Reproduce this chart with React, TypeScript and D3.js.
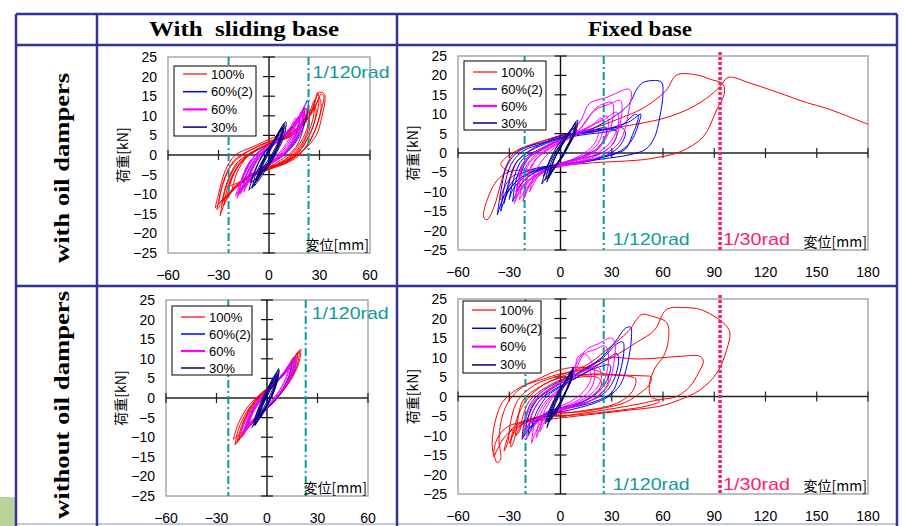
import React from 'react';
import * as d3 from 'd3';

type Pt = [number, number];
type Loop = Pt[];

const seriesNames = ['100%', '60%(2)', '60%', '30%'];
const seriesColors = ['#ff0000', '#0000ff', '#ff00ff', '#000080'];
const legendWidths = [1.2, 1.5, 2.2, 1.5];

const yTicks = [25, 20, 15, 10, 5, 0, -5, -10, -15, -20, -25];
const xTicksSliding = [-60, -30, 0, 30, 60];
const xTicksFixed = [-60, -30, 0, 30, 60, 90, 120, 150, 180];

// ---- with sliding base / with oil dampers ----
const aRed: Loop[] = [
  [[-31, -14], [-27, -7], [-21, -1.5], [-10, 1.5], [0, 3.5], [12, 5.5], [22, 9], [28, 13], [31, 15.5], [32.5, 15], [30, 10], [27, 6], [18, 0], [8, -2.5], [-2, -3.8], [-14, -6], [-24, -10], [-30, -13.5], [-31, -14]],
  [[-29, -15.5], [-26, -9], [-20, -3], [-10, 0.8], [2, 3], [14, 5], [24, 10], [29, 16], [29.5, 13], [24, 5], [15, -0.5], [4, -3], [-8, -5], [-18, -7.5], [-26, -12], [-29, -15.5]],
  [[-25, -11], [-22, -6], [-16, -1.5], [-6, 1.5], [6, 3.8], [16, 6.5], [24, 11], [27, 14], [26, 9], [19, 2], [10, -1.5], [0, -3.2], [-12, -5.5], [-21, -8.5], [-25, -11]],
  [[-24, -8], [-20, -4], [-12, 0], [0, 3], [12, 5], [20, 8.5], [24, 11.5], [22, 6], [14, 0.5], [4, -2.5], [-8, -4.5], [-18, -7], [-24, -8]],
  [[-28, -12], [-25, -7], [-19, -2], [-8, 1.2], [4, 3.5], [15, 5.5], [25, 11], [30, 16], [33, 15.5], [31, 9], [28, 5], [20, 1], [8, -2], [-4, -4], [-16, -6.5], [-24, -10], [-28, -12]],
  [[-32, -13.5], [-30, -10], [-26, -4], [-20, 0], [-10, 2], [0, 4], [10, 6], [18, 9], [22, 12], [21, 8], [16, 2], [8, -1], [-2, -3.5], [-14, -6.5], [-24, -10], [-32, -13.5]],
  [[-27, -13], [-24, -7.5], [-18, -2.5], [-8, 1], [3, 3.2], [13, 5], [22, 8.5], [27, 12.5], [28, 11], [25, 6], [17, 0.5], [6, -2.5], [-5, -4.2], [-16, -6.5], [-23, -9.5], [-27, -13]],
  [[-30, -12.5], [-28, -8], [-23, -3], [-14, 0.5], [-3, 2.8], [8, 4.5], [18, 7], [26, 11], [30, 14.5], [31, 12], [28, 7], [22, 2], [12, -1.5], [1, -3.5], [-10, -5.2], [-20, -8], [-30, -12.5]],
  [[-22, -9], [-19, -4.5], [-13, -0.5], [-3, 2.2], [8, 4.2], [17, 6.8], [23, 10], [24, 8.5], [21, 4], [14, 0], [5, -2.3], [-6, -4], [-15, -6], [-22, -9]],
];
const aBlue: Loop[] = [
  [[-18, -10], [-15, -5], [-9, -0.5], [0, 2.5], [10, 5.5], [18, 9.5], [23, 14], [22.5, 10], [17, 4], [9, 0], [0, -2.5], [-9, -5], [-15, -8], [-18, -10]],
  [[-16, -9], [-13, -4.5], [-6, 0], [2, 2.5], [11, 5.5], [17, 8.5], [21, 12], [20, 8], [14, 2.5], [6, -0.5], [-3, -3], [-11, -6], [-16, -9]],
  [[-14, -8], [-10, -3.5], [-4, 0.5], [4, 3], [12, 6], [18, 10], [17, 6.5], [11, 1.5], [3, -1.5], [-6, -4], [-12, -6.5], [-14, -8]],
  [[-17, -7.5], [-13, -3], [-7, 0.5], [1, 2.8], [9, 5], [16, 8], [20, 11], [19, 7], [13, 2], [5, -1], [-4, -3.5], [-12, -5.5], [-17, -7.5]],
];
const aMagenta: Loop[] = [
  [[-19, -11], [-16, -6], [-10, -1], [0, 2.5], [10, 5], [17, 8.5], [21, 12.5], [20, 8.5], [14, 3], [6, -0.5], [-4, -3], [-12, -6], [-17, -9], [-19, -11]],
  [[-17, -10], [-13, -5], [-6, 0], [3, 3], [11, 5.5], [17, 9], [19, 11], [17, 6], [10, 1], [2, -2], [-7, -4.5], [-14, -7.5], [-17, -10]],
  [[-14, -8], [-10, -3], [-3, 1], [5, 3.5], [12, 6.5], [16, 9.5], [14, 5], [7, 0.5], [-1, -2.5], [-9, -5], [-12, -6.5], [-14, -8]],
  [[-20, -10.5], [-17, -7], [-12, -2], [-2, 2], [8, 4.5], [15, 7], [20, 11], [19, 7], [13, 2], [4, -1.5], [-6, -4], [-14, -7], [-20, -10.5]],
  [[-15, -9.5], [-12, -5], [-7, -1], [1, 2], [9, 4.5], [15, 7.5], [18, 10], [16, 6], [10, 1.5], [2, -1.5], [-6, -4], [-12, -7], [-15, -9.5]],
  [[-18, -10], [-15, -5.5], [-9, -1], [0, 2], [9, 4.5], [16, 8], [20, 11.5], [19, 8], [13, 2.5], [5, -1], [-5, -3.5], [-13, -6.5], [-18, -10]],
  [[-12, -7], [-9, -3], [-3, 0.5], [4, 3], [11, 6], [15, 8.5], [13, 5], [7, 1], [0, -2], [-7, -4.5], [-12, -7]],
];
const aNavy: Loop[] = [
  [[-9, -8], [-6, -4], [-2, 0], [2, 3], [6, 6], [10, 8.5], [9, 5], [5, 1], [1, -2], [-3, -4.5], [-7, -7], [-9, -8]],
  [[-11, -7], [-8, -3.5], [-3, 0.5], [2, 3], [6, 5.5], [9, 7.5], [7, 3.5], [3, 0], [-2, -3], [-6, -5], [-9, -6.5], [-11, -7]],
  [[-7, -6.5], [-4, -2.5], [0, 1], [4, 4], [8, 7], [7, 4], [3, 0.5], [-1, -2.5], [-5, -5], [-7, -6.5]],
  [[-12, -9], [-9, -5], [-5, -1], [0, 2], [5, 5], [8, 7], [6, 3], [2, -1], [-3, -4], [-8, -7], [-12, -9]],
  [[-10, -8.5], [-8, -5], [-4, -1.5], [0, 1.5], [4, 4.5], [8, 7.5], [9, 8], [8, 5.5], [4, 2], [0, -1], [-4, -3.5], [-8, -6.5], [-10, -8.5]],
  [[-8, -7], [-5, -3], [-1, 0.5], [3, 3.5], [7, 6.5], [6, 3], [2, 0], [-2, -3], [-6, -5.5], [-8, -7]],
  [[-6, -5.5], [-3, -2], [0, 0.5], [3, 3], [6, 5], [5, 2.5], [2, -0.5], [-2, -3], [-6, -5.5]],
];

// ---- fixed base / with oil dampers ----
const bRed: Loop[] = [
  [[0, -3.2], [-18, -4.3], [-30, -4.8], [-37, -7], [-42, -11], [-45, -16.5], [-43, -17.2], [-39, -14], [-35, -8], [-31, -2.5], [-26, 0.5], [-15, 2.5], [0, 4.3], [20, 6.5], [38, 9.5], [46.5, 11.1], [54, 13.2], [62, 16.2], [68, 20.1], [80, 20.1], [87.6, 19], [95, 17.8], [96, 15.5], [91.4, 11.1], [83.6, 4.2], [70, 0.3], [56, -1.2], [46.5, -1.8], [20, -2.5], [0, -3.2]],
  [[-30, -4.8], [-35, -3], [-30, -0.5], [-20, 1.5], [0, 4.5], [20, 5.8], [40, 7.1], [46.5, 7.6], [60, 8.9], [73.8, 11.1], [85.5, 14.1], [93.3, 17.1], [98.2, 19.5], [111, 18], [128.5, 15.4], [144, 13], [155.8, 11.5], [180, 7.4]],
  [[0, -3.5], [-15, -4.5], [-28, -6], [-33, -9], [-35, -12], [-32, -11], [-29, -6], [-25, -2], [-15, 1.5], [0, 4], [10, 5], [20, 5.5]],
];
const bBlue: Loop[] = [
  [[-37, -16], [-35, -10], [-32, -4], [-27, -0.5], [-20, 1.5], [-8, 3], [0, 4.5], [15, 5.5], [21, 6.8], [30, 9], [40, 12.5], [45, 16.7], [49, 18.3], [59, 18.3], [60, 15.5], [58, 9], [55, 4], [50, 1], [40, -0.5], [25, -1.5], [10, -2.5], [0, -3], [-15, -4], [-25, -6], [-32, -10], [-37, -16]],
  [[-33, -13], [-30, -7], [-26, -2.5], [-18, 0.5], [-5, 3], [5, 4.5], [20, 5.5], [35, 7], [44, 10], [45.5, 9.5], [42, 4.5], [38, 1], [30, -0.5], [15, -2], [0, -3], [-15, -4.5], [-25, -7], [-31, -10], [-33, -13]],
  [[-30, -12], [-27, -6], [-22, -1.5], [-12, 1], [0, 3.5], [15, 4.8], [28, 5.5], [36, 6.5], [38, 5], [34, 1.5], [25, -1], [12, -2.5], [0, -3], [-12, -4], [-22, -6.5], [-28, -9.5], [-30, -12]],
  [[-26, -10], [-23, -5], [-18, -1], [-8, 1.5], [2, 4], [15, 5.8], [30, 6], [33, 5.5], [31, 2.5], [24, 0], [12, -1.5], [0, -2.8], [-12, -4.5], [-20, -6.5], [-26, -10]],
  [[-35, -15], [-33, -9], [-29, -3], [-22, 0.5], [-10, 2.5], [0, 4], [12, 5], [25, 6], [40, 8], [47, 10], [46, 8], [42, 3.5], [35, 0.5], [20, -1.5], [5, -2.8], [-10, -4], [-22, -6], [-30, -9.5], [-35, -15]],
  [[-28, -12.5], [-26, -7], [-21, -2], [-14, 0.5], [-4, 2.5], [8, 4.5], [20, 6], [27, 6.5], [26, 4], [21, 1], [12, -1], [0, -2.6], [-12, -4.2], [-22, -7.5], [-28, -12.5]],
];
const bMagenta: Loop[] = [
  [[-27, -13], [-25, -8], [-22, -3], [-15, 0], [-5, 2.5], [5, 4.5], [12, 8.5], [17, 12.8], [27, 14.3], [40, 16.5], [41.5, 15.5], [40, 11], [38, 6.5], [34, 2.5], [25, -0.5], [12, -2.5], [0, -3.5], [-12, -5], [-20, -8], [-25, -11], [-27, -13]],
  [[-24, -12], [-22, -7], [-18, -2.5], [-10, 0.5], [0, 3], [8, 5], [14, 7.5], [20, 11], [28, 12.5], [35, 13.5], [36, 11], [34, 6], [30, 2], [22, -0.5], [10, -2.5], [-2, -3.5], [-12, -5.5], [-19, -8.5], [-24, -12]],
  [[-21, -11], [-19, -6], [-14, -1.5], [-5, 1.5], [5, 4], [14, 6], [22, 8], [27, 9.5], [28, 7], [25, 3], [18, 0], [8, -2], [-2, -3], [-12, -5], [-18, -8], [-21, -11]],
  [[-18, -10], [-15, -5], [-9, -1], [0, 2.5], [10, 4.8], [18, 6], [22, 5.5], [20, 2.5], [14, 0], [5, -2], [-5, -3.5], [-13, -6], [-18, -10]],
  [[-25, -10], [-22, -5], [-16, -1], [-6, 2], [4, 4], [15, 6.5], [25, 8.5], [33, 10.5], [34, 8], [31, 4], [25, 1], [15, -1.5], [3, -3], [-10, -4.5], [-19, -7], [-25, -10]],
  [[-22, -12.5], [-20, -7], [-16, -2.5], [-8, 0.8], [2, 3], [10, 5.5], [16, 9], [22, 12], [30, 13], [31, 10], [28, 5], [22, 1], [12, -1.5], [0, -3], [-10, -5], [-18, -8.5], [-22, -12.5]],
  [[-26, -11.5], [-24, -6], [-20, -1.5], [-12, 1], [-2, 3], [8, 4.8], [18, 7], [24, 9], [25, 6.5], [22, 2.5], [14, -0.5], [2, -2.8], [-10, -4.8], [-20, -7.5], [-26, -11.5]],
];
const bNavy: Loop[] = [
  [[-11, -8], [-9, -5], [-6, -2], [-2, 1], [3, 4], [7, 6.5], [10, 8.5], [9, 5.5], [5, 2], [1, -1], [-3, -3.5], [-7, -5.5], [-11, -8]],
  [[-9, -7], [-7, -4], [-4, -1], [0, 2], [4, 4.5], [8, 7], [7, 4], [3, 1], [-1, -2], [-5, -4.5], [-9, -7]],
  [[-7, -6.5], [-5, -3], [-2, 0], [2, 3], [6, 5.5], [8, 6.5], [6, 3], [2, 0], [-2, -3], [-5, -5], [-7, -6.5]],
  [[-10, -6], [-7, -2.5], [-3, 1], [1, 3.5], [5, 5.5], [9, 7.5], [8, 5], [4, 2], [0, -1.5], [-4, -3.5], [-8, -5], [-10, -6]],
  [[-8, -7.5], [-6, -4], [-3, -1], [1, 2], [5, 5], [9, 8], [8, 5], [4, 1.5], [0, -1.5], [-4, -4], [-8, -7.5]],
  [[-6, -5.5], [-4, -2], [-1, 0.5], [3, 3.5], [6, 5], [5, 2.5], [2, -0.5], [-2, -3], [-6, -5.5]],
];

// ---- with sliding base / without oil dampers ----
const cRed: Loop[] = [
  [[-19, -12], [-17, -8], [-12, -3.5], [-6, 0], [0, 2.5], [7, 5], [13, 8], [18, 11], [20, 12.5], [19, 9], [14, 4.5], [8, 1], [2, -2], [-5, -4.5], [-11, -7], [-16, -10], [-19, -12]],
  [[-20, -10.5], [-17, -6.5], [-11, -2], [-4, 1], [3, 3.5], [10, 6], [15, 9], [18, 11.5], [17, 8], [12, 3.5], [6, 0], [-1, -3], [-8, -5.5], [-14, -8.5], [-20, -10.5]],
  [[-17, -11], [-14, -6.5], [-9, -2], [-2, 1.5], [5, 4], [11, 7], [16, 10.5], [15, 7], [10, 2.5], [3, -1], [-4, -4], [-11, -7.5], [-17, -11]],
  [[-15, -8], [-11, -4], [-5, 0], [2, 2.5], [9, 5.5], [14, 8.5], [13, 5.5], [8, 1.5], [1, -2], [-6, -4.5], [-12, -7], [-15, -8]],
  [[-18, -11.5], [-15, -7], [-10, -2.5], [-3, 1], [4, 3.5], [10, 6.5], [15, 9.5], [19, 12], [18, 8.5], [13, 4], [7, 0.5], [0, -2.5], [-7, -5], [-13, -8], [-18, -11.5]],
];
const cBlue: Loop[] = [
  [[-14, -9], [-11, -5], [-6, -1], [0, 2], [7, 5], [13, 8], [17, 10.5], [16, 7], [11, 3], [5, -0.5], [-2, -3.5], [-9, -6.5], [-14, -9]],
  [[-12, -8], [-9, -4], [-4, -0.5], [2, 2.5], [8, 5], [13, 7.5], [15, 9], [13, 5.5], [8, 1.5], [2, -1.5], [-5, -4.5], [-10, -7], [-12, -8]],
  [[-13, -8.5], [-10, -4.5], [-5, -1], [1, 2], [7, 4.8], [12, 7.5], [16, 10], [15, 6.5], [10, 2.5], [4, -1], [-3, -4], [-9, -6.5], [-13, -8.5]],
];
const cMagenta: Loop[] = [
  [[-15, -10], [-12, -6], [-7, -2], [-1, 1.5], [6, 4.5], [12, 7.5], [17, 10.5], [16, 7], [11, 3], [4, -0.5], [-3, -3.5], [-10, -7], [-15, -10]],
  [[-16, -9], [-12, -5], [-6, -1], [1, 2.5], [8, 5.5], [14, 8.5], [16, 10], [14, 6], [9, 2], [2, -1.5], [-5, -4.5], [-12, -7.5], [-16, -9]],
  [[-13, -8.5], [-10, -5], [-5, -1.5], [1, 1.5], [7, 4.5], [12, 7], [14, 9], [12, 5.5], [7, 1.5], [1, -2], [-6, -5], [-10, -7], [-13, -8.5]],
  [[-11, -7], [-8, -3.5], [-3, 0], [3, 3], [9, 6], [13, 8.5], [11, 5], [6, 1], [0, -2], [-6, -4.5], [-11, -7]],
  [[-14, -9.5], [-11, -5.5], [-6, -1.5], [0, 2], [7, 5], [13, 8], [16, 9.5], [15, 6.5], [10, 2.5], [3, -1], [-4, -4], [-11, -7], [-14, -9.5]],
];
const cNavy: Loop[] = [
  [[-8, -7], [-6, -4], [-3, -1], [0, 2], [4, 5], [7, 7.5], [6, 4.5], [3, 1], [0, -2], [-3, -4.5], [-6, -6], [-8, -7]],
  [[-7, -6.5], [-5, -3.5], [-2, -0.5], [1, 2.5], [4, 5], [6, 6.5], [5, 3.5], [2, 0], [-1, -2.5], [-4, -5], [-7, -6.5]],
  [[-9, -7.5], [-6, -5], [-3, -2], [0, 1], [3, 4], [6, 6], [5, 3], [2, -0.5], [-2, -3.5], [-6, -6], [-9, -7.5]],
  [[-6, -5], [-4, -2.5], [-1, 0.5], [2, 3], [5, 5.5], [4, 3], [1, 0], [-2, -2.5], [-5, -4.5], [-6, -5]],
  [[-8, -6], [-5, -2.5], [-2, 0.5], [1, 3], [4, 5.5], [7, 7], [6, 4], [3, 0.5], [0, -2], [-4, -4.5], [-8, -6]],
  [[-7, -7], [-4, -3.5], [-1, -0.5], [2, 2], [5, 4.5], [6, 5.5], [4, 2], [1, -1], [-2, -3.5], [-5, -5.5], [-7, -7]],
  [[-5, -5.5], [-3, -2], [0, 1], [3, 3.5], [5, 5], [4, 2], [1, -1], [-2, -3], [-5, -5.5]],
];

// ---- fixed base / without oil dampers ----
const dRed: Loop[] = [
  [[-5, -5.5], [-20, -6.5], [-30, -7.5], [-36, -10], [-39, -14], [-37, -17], [-35, -16], [-36, -11], [-34, -5], [-30, -1], [-22, 2.5], [-10, 4.5], [0, 5.8], [15, 7], [30, 10], [45, 14], [55, 17], [62, 22.3], [72, 22.8], [82, 22.3], [92, 20], [97.3, 18], [99.2, 16.3], [97.3, 12], [91.5, 6], [81.7, 1.7], [70, -0.8], [58, -2.5], [40, -3.5], [20, -4.5], [0, -5.5], [-20, -6.5]],
  [[-5, -5], [-20, -6], [-28, -8], [-32, -12], [-33, -14], [-31, -12], [-29, -6], [-25, -1], [-15, 3], [0, 5.5], [15, 8], [26, 11.6], [39.7, 16.7], [47.5, 21], [53.4, 20.6], [62.2, 18.9], [63.2, 14.6], [60.3, 10.3], [55.3, 7.3], [52, 3], [53, 0], [58, -1.2], [50, -2.5], [35, -3.5], [15, -4.5], [0, -5]],
  [[5, -4.8], [-5, -5], [-18, -6], [-26, -8.5], [-30, -12], [-28, -10], [-25, -5], [-20, -1], [-10, 3], [0, 5], [15, 7.5], [29, 9.9], [45, 9.6], [58.3, 9.9], [70, 10.3], [81.7, 10.3], [83.6, 9], [80.7, 6], [75.8, 2.6], [68, 0], [58, -0.8], [45, -2], [25, -3.5], [5, -4.8]],
  [[0, -4.5], [-15, -5.5], [-24, -7], [-28, -9], [-29, -13], [-27, -11], [-25, -6], [-22, -1], [-12, 2.5], [0, 4.8], [15, 5.5], [30, 5.5], [40, 5.2], [44, 4.5], [43, 2], [38, -0.5], [28, -2.5], [15, -3.5], [0, -4.5]],
  [[0, -4], [-12, -5], [-22, -7], [-26, -10], [-24, -9], [-22, -5], [-18, -1], [-8, 2.5], [5, 5], [20, 5.8], [35, 5.5], [48, 5.3], [53, 5], [52, 3], [47, 1], [38, -1.5], [25, -3], [10, -4], [0, -4]],
  [[-39, -15.5], [-40, -12], [-38, -6], [-34, -1.5], [-26, 1.7], [-14, 4.3], [0, 6.9], [12, 7.5], [22, 6.5], [28, 5], [26, 2], [18, -1], [5, -3], [-10, -5], [-22, -7], [-32, -10], [-39, -15.5]],
  [[-20, -9], [-22, -10.5], [-20, -7], [-16, -2], [-8, 1.5], [2, 4], [12, 5], [22, 4.8], [24, 3], [18, 0], [6, -2.5], [-8, -4.5], [-20, -9]],
];
const dBlue: Loop[] = [
  [[-22.5, -11], [-21, -6], [-17, -1.5], [-10, 1.5], [0, 4], [12, 6.5], [24, 10], [32, 14], [38, 17.5], [41, 17.8], [41.5, 15], [39, 8], [35, 3], [28, 0], [18, -2], [5, -3.5], [-8, -5], [-16, -7], [-22.5, -11]],
  [[-21, -10], [-19, -5.5], [-14, -1], [-5, 2], [5, 4.5], [15, 7], [25, 10], [33, 13.5], [36.5, 14], [37, 11], [34, 5], [30, 1], [22, -1], [10, -2.5], [-2, -3.5], [-12, -5.5], [-19, -7.5], [-21, -10]],
  [[-19, -10], [-17, -5], [-12, -1], [-3, 2], [8, 4.5], [18, 7], [27, 9.5], [33, 11], [34, 9], [31, 4], [26, 1], [18, -1], [6, -2.5], [-6, -4], [-14, -6], [-19, -10]],
  [[-17, -8], [-14, -4], [-8, 0], [2, 3], [12, 5.5], [22, 7.5], [29, 8], [28, 5], [23, 1.5], [15, -1], [4, -2.5], [-8, -4], [-17, -8]],
];
const dMagenta: Loop[] = [
  [[-20, -11], [-18, -6], [-13, -1.5], [-5, 2], [5, 5], [10, 9], [15, 12], [22, 13.5], [30, 15], [32, 13], [31, 8], [28, 3], [22, 0], [12, -2], [0, -3.5], [-10, -5], [-16, -8], [-20, -11]],
  [[-17, -12], [-15, -6.5], [-10, -2], [-2, 1.5], [6, 4], [10, 8], [14, 11], [20, 12], [26, 13], [28, 11], [27, 6], [23, 2], [16, -0.5], [6, -2.5], [-5, -4], [-12, -7], [-17, -12]],
  [[-14, -10.5], [-12, -5], [-7, -1], [1, 2.5], [8, 6], [10, 10], [14, 11], [18, 9], [20, 5], [17, 1.5], [10, -1], [0, -3], [-9, -5.5], [-14, -10.5]],
  [[-22, -9], [-19, -4], [-14, -0.5], [-6, 2], [4, 4.5], [14, 6.5], [22, 7.5], [24, 5], [20, 1.5], [12, -1], [2, -3], [-10, -5], [-18, -7], [-22, -9]],
  [[-12, -9], [-10, -4.5], [-5, -0.5], [3, 3], [10, 5.5], [16, 7], [18, 5], [14, 1.5], [7, -1], [-2, -3], [-8, -5.5], [-12, -9]],
];
const dNavy: Loop[] = [
  [[-8, -8], [-6, -5], [-3, -1.5], [0, 1.5], [3, 4], [6, 6], [7.5, 7.5], [6.5, 4.5], [3.5, 1.5], [0.5, -1.5], [-3, -4], [-6, -6], [-8, -8]],
  [[-7, -6.5], [-5, -3], [-2, 0], [1, 2.5], [4, 5], [7, 7], [6, 4], [3, 1], [0, -2], [-3, -4.5], [-7, -6.5]],
  [[-9, -7], [-7, -4], [-4, -1], [-1, 1.5], [3, 4], [6, 6], [5, 3], [2, 0.5], [-1, -2], [-5, -4.5], [-9, -7]],
  [[-6, -6], [-4, -3], [-1, 0], [2, 2.5], [5, 5], [6.5, 6.5], [5, 3.5], [2, 0.5], [-1, -2.5], [-4, -4.5], [-6, -6]],
  [[-8, -6.5], [-6, -3.5], [-3, -0.5], [0, 2], [4, 4.5], [7, 6.5], [6, 4], [3, 1], [-1, -2], [-5, -4.5], [-8, -6.5]],
];

const headerLabels = ['With  sliding base', 'Fixed base'];
const rowLabels = ['with oil dampers', 'without oil dampers'];

const tableColor = '#333399';
const teal = '#0f9a9a';
const pink = '#ff1a6c';
const tickFont = '"Liberation Sans", Arial, sans-serif';
const cjkFont = '"Noto Sans CJK JP", "Noto Sans", sans-serif';
const serifFont = '"Liberation Serif", "Times New Roman", serif';

interface RefLabel { text: string; at: number; dx: number; dy: number; color: string; len: number }
interface PanelSpec {
  left: number; top: number; right: number; bottom: number;
  xDomain: [number, number]; xTicks: number[];
  series: Loop[][];
  tealAt: number[]; pinkAt: number[];
  labels: RefLabel[];
  legend: { x: number; y: number; w: number; h: number; row0: number; step: number };
}

const panels: PanelSpec[] = [
  {
    left: 168, top: 57, right: 370, bottom: 253, xDomain: [-60, 60], xTicks: xTicksSliding,
    series: [aRed, aBlue, aMagenta, aNavy], tealAt: [-24, 23.5], pinkAt: [],
    labels: [{ text: '1/120rad', at: 23.5, dx: 4, dy: 15, color: teal, len: 77 }],
    legend: { x: 174, y: 66, w: 82, h: 70, row0: 8, step: 17.7 },
  },
  {
    left: 458, top: 56, right: 868, bottom: 250, xDomain: [-60, 180], xTicks: xTicksFixed,
    series: [bRed, bBlue, bMagenta, bNavy], tealAt: [-21, 25.3], pinkAt: [93.4],
    labels: [
      { text: '1/120rad', at: 25.3, dx: 9, dy: -11, color: teal, len: 77 },
      { text: '1/30rad', at: 93.4, dx: 3, dy: -11, color: pink, len: 67 },
    ],
    legend: { x: 464, y: 61, w: 82, h: 69, row0: 11, step: 17 },
  },
  {
    left: 166, top: 300, right: 368, bottom: 496, xDomain: [-60, 60], xTicks: xTicksSliding,
    series: [cRed, cBlue, cMagenta, cNavy], tealAt: [-23, 23], pinkAt: [],
    labels: [{ text: '1/120rad', at: 23, dx: 6, dy: 13, color: teal, len: 77 }],
    legend: { x: 172, y: 306, w: 80, h: 69, row0: 11, step: 17 },
  },
  {
    left: 458, top: 299, right: 868, bottom: 494, xDomain: [-60, 180], xTicks: xTicksFixed,
    series: [dRed, dBlue, dMagenta, dNavy], tealAt: [-20.5, 25.3], pinkAt: [93.4],
    labels: [
      { text: '1/120rad', at: 25.3, dx: 9, dy: -10, color: teal, len: 77 },
      { text: '1/30rad', at: 93.4, dx: 3, dy: -10, color: pink, len: 67 },
    ],
    legend: { x: 463, y: 301, w: 78, h: 72, row0: 9, step: 18.3 },
  },
];

const fmt = (v: number) => (v < 0 ? '\u2212' + Math.abs(v) : String(v));

function Panel({ p }: { p: PanelSpec }) {
  const x = d3.scaleLinear().domain(p.xDomain).range([p.left, p.right]);
  const y = d3.scaleLinear().domain([-25, 25]).range([p.bottom, p.top]);
  const line = d3.line<Pt>().x(d => x(d[0])).y(d => y(d[1])).curve(d3.curveCatmullRom.alpha(0.5));
  const x0 = x(0), y0 = y(0);
  const lg = p.legend;
  return (
    <g>
      <rect x={p.left} y={p.top} width={p.right - p.left} height={p.bottom - p.top} fill="#fff" stroke="#a8a8a8" strokeWidth={1.5} />
      <line x1={p.left} x2={p.right} y1={y0} y2={y0} stroke="#222" strokeWidth={1.4} />
      <line x1={x0} x2={x0} y1={p.top} y2={p.bottom} stroke="#111" strokeWidth={1.4} />
      {p.xTicks.map(t => (
        <line key={'xt' + t} x1={x(t)} x2={x(t)} y1={y0 - 5} y2={y0 + 5} stroke="#222" strokeWidth={1.2} />
      ))}
      {yTicks.map(t => (
        <line key={'yt' + t} x1={x0 - 6} x2={x0 + 6} y1={y(t)} y2={y(t)} stroke="#111" strokeWidth={1.2} />
      ))}
      {p.series.map((loops, i) => (
        <g key={'s' + i} fill="none" stroke={seriesColors[i]} strokeWidth={1} strokeLinejoin="round">
          {loops.map((lp, j) => <path key={j} d={line(lp) || ''} />)}
        </g>
      ))}
      {p.tealAt.map(v => (
        <line key={'tl' + v} x1={x(v)} x2={x(v)} y1={p.top} y2={p.bottom} stroke={teal} strokeWidth={2} strokeDasharray="8,3,2,3" />
      ))}
      {p.pinkAt.map(v => (
        <line key={'pl' + v} x1={x(v)} x2={x(v)} y1={p.top - 4} y2={p.bottom} stroke={pink} strokeWidth={3.5} strokeDasharray="3,2" />
      ))}
      {p.labels.map(l => (
        <text key={l.text} x={x(l.at) + l.dx} y={l.dy > 0 ? p.top + l.dy : p.bottom + l.dy} dominantBaseline="central"
          fill={l.color} fontFamily={tickFont} fontSize={17} textLength={l.len} lengthAdjust="spacingAndGlyphs">{l.text}</text>
      ))}
      {yTicks.map(t => (
        <text key={'yl' + t} x={p.left - 11} y={y(t)} textAnchor="end" dominantBaseline="central" fontFamily={tickFont} fontSize={14} fill="#000">{fmt(t)}</text>
      ))}
      {p.xTicks.map(t => (
        <text key={'xl' + t} x={x(t)} y={p.bottom + 22} textAnchor="middle" dominantBaseline="central" fontFamily={tickFont} fontSize={14} fill="#000">{fmt(t)}</text>
      ))}
      <text transform={`translate(${p.left - 46},${(p.top + p.bottom) / 2}) rotate(-90)`} textAnchor="middle" dominantBaseline="central"
        fontFamily={cjkFont} fontSize={14} fill="#000">荷重[kN]</text>
      <text x={p.right - 1} y={p.bottom - 9} textAnchor="end" dominantBaseline="central" fontFamily={cjkFont} fontSize={14} fill="#000">変位[mm]</text>
      <rect x={lg.x} y={lg.y} width={lg.w} height={lg.h} fill="#fff" stroke="#000" strokeWidth={1} />
      {seriesNames.map((n, i) => {
        const ry = lg.y + lg.row0 + i * lg.step;
        return (
          <g key={n}>
            <line x1={lg.x + 9} x2={lg.x + 33} y1={ry} y2={ry} stroke={seriesColors[i]} strokeWidth={legendWidths[i]} />
            <text x={lg.x + 37} y={ry} dominantBaseline="central" fontFamily={tickFont} fontSize={13} fill="#000">{n}</text>
          </g>
        );
      })}
    </g>
  );
}

// bold serif text stretched to a given length, centred on (cx, cy), optionally turned
function StretchText({ text, cx, cy, len, rotate }: { text: string; cx: number; cy: number; len: number; rotate?: boolean }) {
  return (
    <text transform={`translate(${cx},${cy})${rotate ? ' rotate(-90)' : ''}`} x={-len / 2} y={0} dominantBaseline="central"
      fontFamily={serifFont} fontWeight="bold" fontSize={20} textLength={len} lengthAdjust="spacingAndGlyphs"
      style={{ whiteSpace: 'pre' }}>{text}</text>
  );
}

export default function App() {
  const W = 904, H = 526;
  const colX = [16, 97, 397, 897];
  const rowY = [14, 45, 286];
  return (
    <svg width={W} height={H} style={{ position: 'absolute', left: 0, top: 0 }}>
      <rect x={0} y={0} width={W} height={H} fill="#fff" />
      <rect x={0} y={497} width={15} height={29} fill="#b9d39c" />
      <line x1={colX[0]} x2={colX[3]} y1={524} y2={524} stroke="#c4c4e4" strokeWidth={2} />
      {rowY.map(v => <line key={'r' + v} x1={colX[0]} x2={colX[3]} y1={v} y2={v} stroke={tableColor} strokeWidth={2.5} />)}
      {colX.map(v => <line key={'c' + v} x1={v} x2={v} y1={rowY[0]} y2={H} stroke={tableColor} strokeWidth={2.5} />)}
      <StretchText text={headerLabels[0]} cx={244} cy={29} len={190} />
      <StretchText text={headerLabels[1]} cx={640} cy={29} len={104} />
      <StretchText text={rowLabels[0]} cx={62} cy={168} len={190} rotate />
      <StretchText text={rowLabels[1]} cx={62} cy={405} len={228} rotate />
      {panels.map((p, i) => <Panel key={i} p={p} />)}
    </svg>
  );
}
